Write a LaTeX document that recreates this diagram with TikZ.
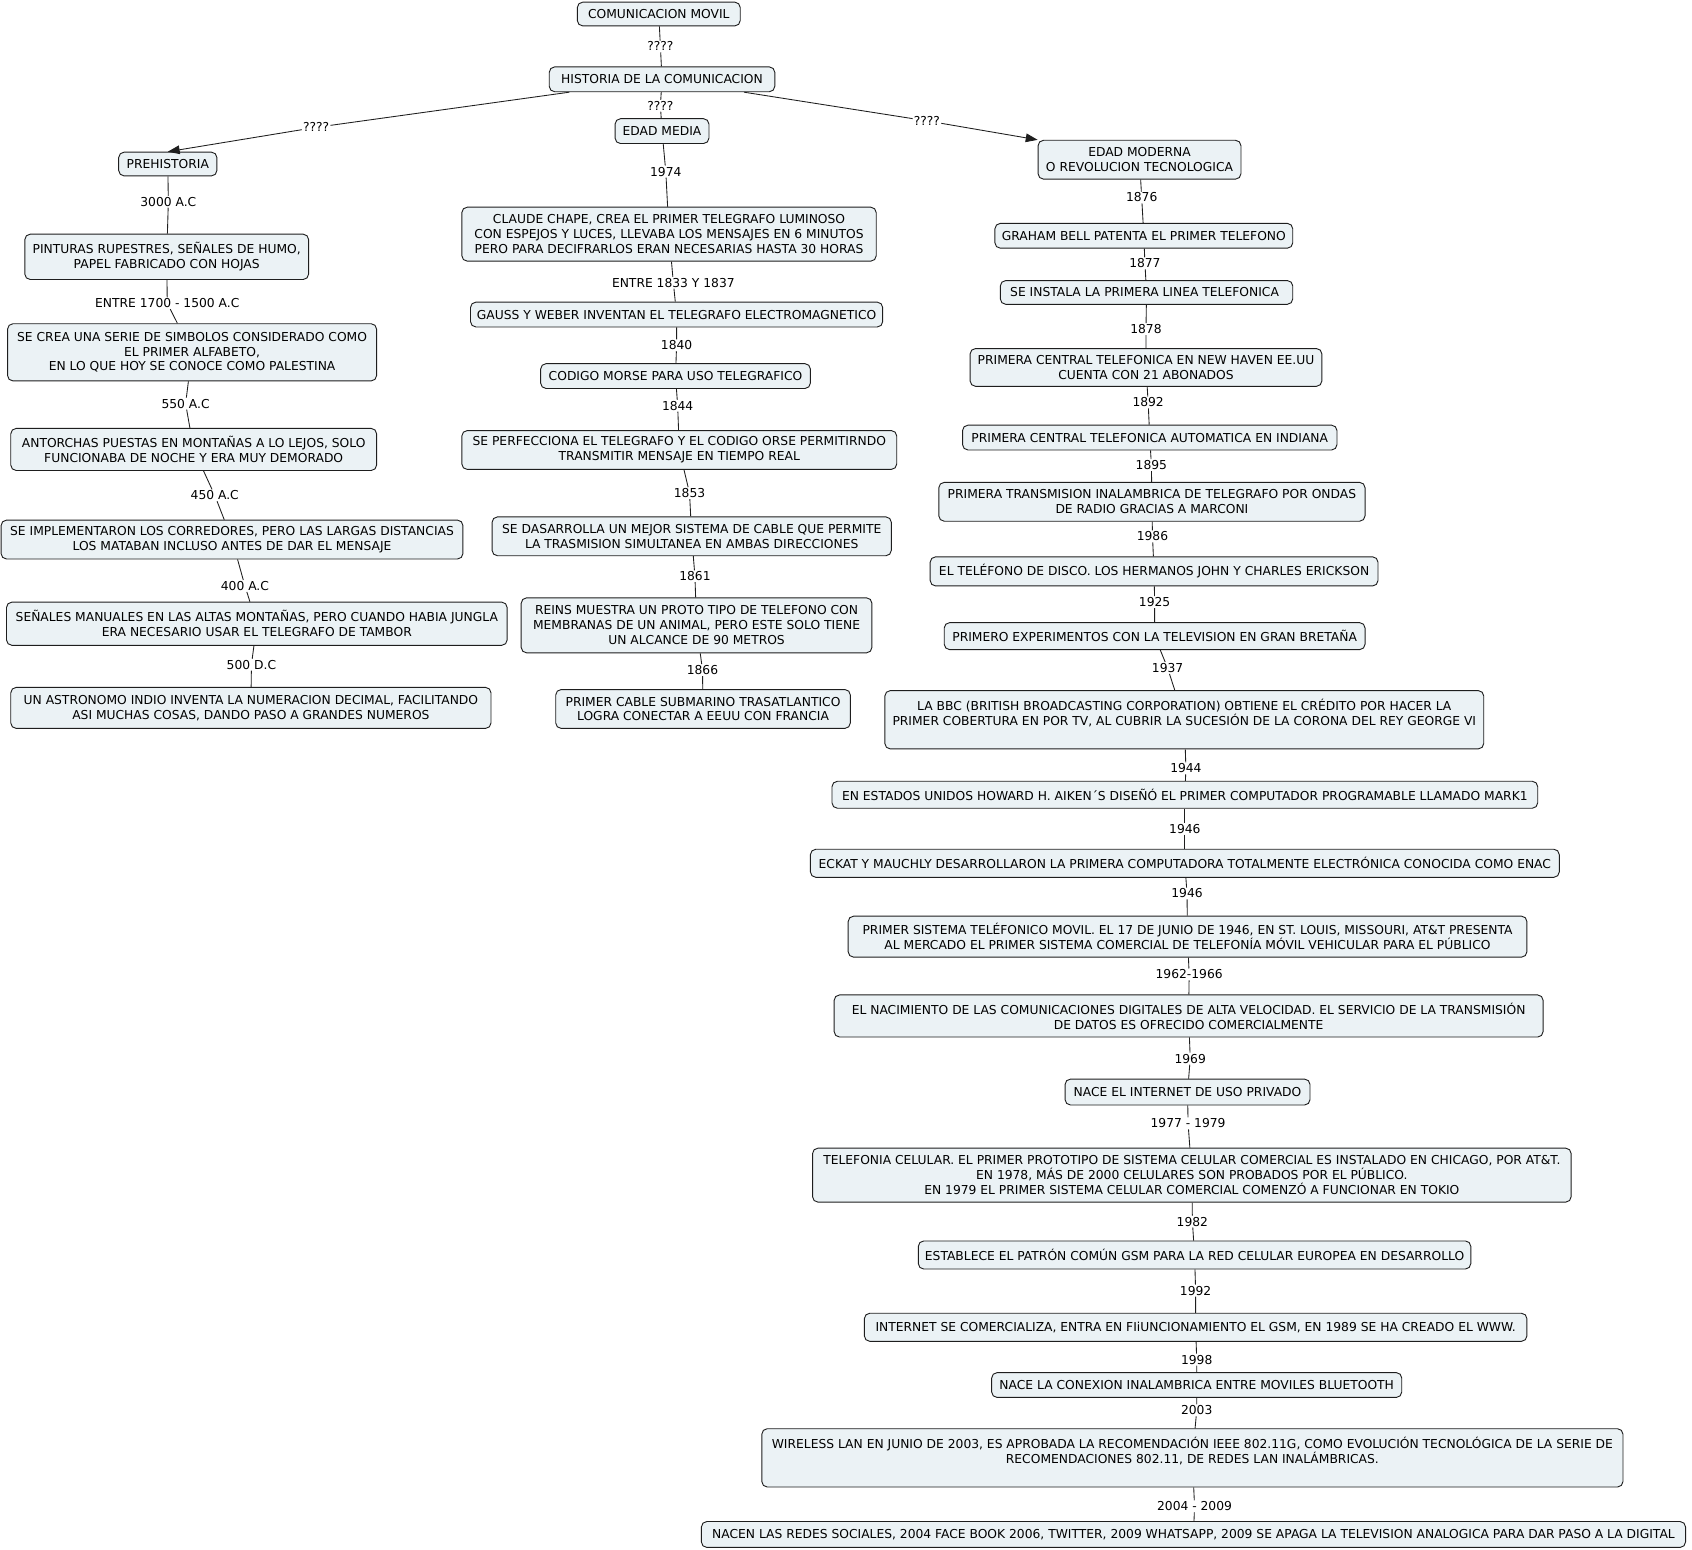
\documentclass[tikz,border=0pt]{standalone}
\usepackage{fontspec}
\setmainfont{DejaVu Sans}
\usetikzlibrary{arrows.meta}
\definecolor{boxfill}{RGB}{235,242,245}
\definecolor{boxline}{RGB}{30,30,30}
\newcommand\mybox[6]{\node[cbox,minimum width=#4pt,minimum height=#5pt] (#1) at (#2,#3) {#6};}
\newcommand\mylab[4]{\node[lbl] (#1) at (#2,#3) {#4};}
\begin{document}
\begin{tikzpicture}[x=1pt,y=-1pt,
  font=\fontsize{11.4}{13.8}\selectfont,
  cbox/.style={draw=boxline,fill=boxfill,rounded corners=5pt,line width=0.85pt,align=center,inner sep=2pt},
  lbl/.style={inner sep=1pt,text=black},
  link/.style={draw=boxline,line width=0.8pt},
  arr/.style={link,-{Triangle[length=11pt,width=8pt]}}]
\useasboundingbox[fill=white] (0,0) rectangle (1568,1436);

% top
\mybox{cm}{610.5}{13}{151}{22}{COMUNICACION MOVIL}
\mybox{hist}{613.5}{73.5}{209}{23}{HISTORIA DE LA COMUNICACION}
\mybox{em}{613.5}{121.5}{87}{23}{EDAD MEDIA}
\mybox{pre}{155.5}{152}{91}{22}{PREHISTORIA}
\mybox{emod}{1056}{148}{188}{36}{EDAD MODERNA\\O REVOLUCION TECNOLOGICA}
\mylab{q1}{612}{43}{????}
\mylab{q2}{612}{98}{????}
\mylab{q3}{293}{118}{????}
\mylab{q4}{859}{112}{????}
\draw[link] (cm) -- (q1) -- (hist);
\draw[link] (hist) -- (q2) -- (em);
\draw[link] (hist) -- (q3);
\draw[arr] (q3) -- (pre.north);
\draw[link] (hist) -- (q4);
\draw[arr] (q4) -- (emod.north west);

% prehistoria
\mybox{p1}{154.5}{238}{263}{42}{PINTURAS RUPESTRES, SEÑALES DE HUMO,\\PAPEL FABRICADO CON HOJAS}
\mybox{p2}{178}{326.5}{342}{53}{SE CREA UNA SERIE DE SIMBOLOS CONSIDERADO COMO\\EL PRIMER ALFABETO,\\EN LO QUE HOY SE CONOCE COMO PALESTINA}
\mybox{p3}{179.5}{416.5}{339}{39}{ANTORCHAS PUESTAS EN MONTAÑAS A LO LEJOS, SOLO\\FUNCIONABA DE NOCHE Y ERA MUY DEMORADO}
\mybox{p4}{215}{500}{428}{36}{SE IMPLEMENTARON LOS CORREDORES, PERO LAS LARGAS DISTANCIAS\\LOS MATABAN INCLUSO ANTES DE DAR EL MENSAJE}
\mybox{p5}{238}{578}{464}{40}{SEÑALES MANUALES EN LAS ALTAS MONTAÑAS, PERO CUANDO HABIA JUNGLA\\ERA NECESARIO USAR EL TELEGRAFO DE TAMBOR}
\mybox{p6}{232.5}{656}{445}{38}{UN ASTRONOMO INDIO INVENTA LA NUMERACION DECIMAL, FACILITANDO\\ASI MUCHAS COSAS, DANDO PASO A GRANDES NUMEROS}
\mylab{pl1}{156}{187}{3000 A.C}
\mylab{pl2}{155}{281}{ENTRE 1700 - 1500 A.C}
\mylab{pl3}{172}{374}{550 A.C}
\mylab{pl4}{199}{459}{450 A.C}
\mylab{pl5}{227}{543}{400 A.C}
\mylab{pl6}{233}{616}{500 D.C}
\draw[link] (pre) -- (pl1) -- (p1);
\draw[link] (p1) -- (pl2) -- (p2);
\draw[link] (p2) -- (pl3) -- (p3);
\draw[link] (p3) -- (pl4) -- (p4);
\draw[link] (p4) -- (pl5) -- (p5);
\draw[link] (p5) -- (pl6) -- (p6);

% edad media
\mybox{m1}{620}{217}{384}{50}{CLAUDE CHAPE, CREA EL PRIMER TELEGRAFO LUMINOSO\\CON ESPEJOS Y LUCES, LLEVABA LOS MENSAJES EN 6 MINUTOS\\PERO PARA DECIFRARLOS ERAN NECESARIAS HASTA 30 HORAS}
\mybox{m2}{627}{291.5}{382}{23}{GAUSS Y WEBER INVENTAN EL TELEGRAFO ELECTROMAGNETICO}
\mybox{m3}{626}{348.5}{250}{23}{CODIGO MORSE PARA USO TELEGRAFICO}
\mybox{m4}{629.5}{417}{403}{36}{SE PERFECCIONA EL TELEGRAFO Y EL CODIGO ORSE PERMITIRNDO\\TRANSMITIR MENSAJE EN TIEMPO REAL}
\mybox{m5}{641}{497}{370}{36}{SE DASARROLLA UN MEJOR SISTEMA DE CABLE QUE PERMITE\\LA TRASMISION SIMULTANEA EN AMBAS DIRECCIONES}
\mybox{m6}{645.5}{579.5}{325}{51}{REINS MUESTRA UN PROTO TIPO DE TELEFONO CON\\MEMBRANAS DE UN ANIMAL, PERO ESTE SOLO TIENE\\UN ALCANCE DE 90 METROS}
\mybox{m7}{651.5}{657}{273}{36}{PRIMER CABLE SUBMARINO TRASATLANTICO\\LOGRA CONECTAR A EEUU CON FRANCIA}
\mylab{ml1}{617}{159}{1974}
\mylab{ml2}{624}{262}{ENTRE 1833 Y 1837}
\mylab{ml3}{627}{320}{1840}
\mylab{ml4}{628}{376}{1844}
\mylab{ml5}{639}{457}{1853}
\mylab{ml6}{644}{534}{1861}
\mylab{ml7}{651}{621}{1866}
\draw[link] (em) -- (ml1) -- (m1);
\draw[link] (m1) -- (ml2) -- (m2);
\draw[link] (m2) -- (ml3) -- (m3);
\draw[link] (m3) -- (ml4) -- (m4);
\draw[link] (m4) -- (ml5) -- (m5);
\draw[link] (m5) -- (ml6) -- (m6);
\draw[link] (m6) -- (ml7) -- (m7);

% edad moderna
\mybox{r1}{1060}{218.5}{276}{23}{GRAHAM BELL PATENTA EL PRIMER TELEFONO}
\mybox{r2}{1062.5}{271}{271}{22}{SE INSTALA LA PRIMERA LINEA TELEFONICA\ }
\mybox{r3}{1062}{340.5}{326}{35}{PRIMERA CENTRAL TELEFONICA EN NEW HAVEN EE.UU\\CUENTA CON 21 ABONADOS}
\mybox{r4}{1065.5}{405.5}{347}{23}{PRIMERA CENTRAL TELEFONICA AUTOMATICA EN INDIANA}
\mybox{r5}{1067.5}{465}{395}{36}{PRIMERA TRANSMISION INALAMBRICA DE TELEGRAFO POR ONDAS\\DE RADIO GRACIAS A MARCONI}
\mybox{r6}{1069.5}{529.5}{415}{27}{EL TELÉFONO DE DISCO. LOS HERMANOS JOHN Y CHARLES ERICKSON}
\mybox{r7}{1070}{589.5}{390}{25}{PRIMERO EXPERIMENTOS CON LA TELEVISION EN GRAN BRETAÑA}
\mybox{r8}{1097.5}{667}{555}{54}{LA BBC (BRITISH BROADCASTING CORPORATION) OBTIENE EL CRÉDITO POR HACER LA\\PRIMER COBERTURA EN POR TV, AL CUBRIR LA SUCESIÓN DE LA CORONA DEL REY GEORGE VI\\\mbox{}}
\mybox{r9}{1098}{736.5}{654}{25}{EN ESTADOS UNIDOS HOWARD H. AIKEN´S DISEÑÓ EL PRIMER COMPUTADOR PROGRAMABLE LLAMADO MARK1}
\mybox{r10}{1098}{800}{694}{26}{ECKAT Y MAUCHLY DESARROLLARON LA PRIMERA COMPUTADORA TOTALMENTE ELECTRÓNICA CONOCIDA COMO ENAC}
\mybox{r11}{1100.5}{868}{629}{38}{PRIMER SISTEMA TELÉFONICO MOVIL. EL 17 DE JUNIO DE 1946, EN ST. LOUIS, MISSOURI, AT\&T PRESENTA\\AL MERCADO EL PRIMER SISTEMA COMERCIAL DE TELEFONÍA MÓVIL VEHICULAR PARA EL PÚBLICO}
\mybox{r12}{1101.5}{941.5}{657}{39}{EL NACIMIENTO DE LAS COMUNICACIONES DIGITALES DE ALTA VELOCIDAD. EL SERVICIO DE LA TRANSMISIÓN\\DE DATOS ES OFRECIDO COMERCIALMENTE}
\mybox{r13}{1100.5}{1012}{227}{24}{NACE EL INTERNET DE USO PRIVADO}
\mybox{r14}{1104.5}{1089}{703}{50}{TELEFONIA CELULAR. EL PRIMER PROTOTIPO DE SISTEMA CELULAR COMERCIAL ES INSTALADO EN CHICAGO, POR AT\&T.\\EN 1978, MÁS DE 2000 CELULARES SON PROBADOS POR EL PÚBLICO.\\EN 1979 EL PRIMER SISTEMA CELULAR COMERCIAL COMENZÓ A FUNCIONAR EN TOKIO}
\mybox{r15}{1107}{1163}{512}{26}{ESTABLECE EL PATRÓN COMÚN GSM PARA LA RED CELULAR EUROPEA EN DESARROLLO}
\mybox{r16}{1108}{1230}{614}{26}{INTERNET SE COMERCIALIZA, ENTRA EN FIiUNCIONAMIENTO EL GSM, EN 1989 SE HA CREADO EL WWW.}
\mybox{r17}{1109}{1283.5}{380}{23}{NACE LA CONEXION INALAMBRICA ENTRE MOVILES BLUETOOTH}
\mybox{r18}{1105}{1351}{798}{54}{WIRELESS LAN EN JUNIO DE 2003, ES APROBADA LA RECOMENDACIÓN IEEE 802.11G, COMO EVOLUCIÓN TECNOLÓGICA DE LA SERIE DE\\RECOMENDACIONES 802.11, DE REDES LAN INALÁMBRICAS.\\\mbox{}}
\mybox{r19}{1106}{1422}{912}{24}{NACEN LAS REDES SOCIALES, 2004 FACE BOOK 2006, TWITTER, 2009 WHATSAPP, 2009 SE APAGA LA TELEVISION ANALOGICA PARA DAR PASO A LA DIGITAL}
\mylab{rl1}{1058}{183}{1876}
\mylab{rl2}{1061}{244}{1877}
\mylab{rl3}{1062}{305}{1878}
\mylab{rl4}{1064}{373}{1892}
\mylab{rl5}{1067}{431}{1895}
\mylab{rl6}{1068}{497}{1986}
\mylab{rl7}{1070}{558}{1925}
\mylab{rl8}{1082}{619}{1937}
\mylab{rl9}{1099}{712}{1944}
\mylab{rl10}{1098}{768}{1946}
\mylab{rl11}{1100}{828}{1946}
\mylab{rl12}{1102}{903}{1962-1966}
\mylab{rl13}{1103}{981}{1969}
\mylab{rl14}{1101}{1041}{1977 - 1979}
\mylab{rl15}{1105}{1132}{1982}
\mylab{rl16}{1108}{1196}{1992}
\mylab{rl17}{1109}{1260}{1998}
\mylab{rl18}{1109}{1307}{2003}
\mylab{rl19}{1107}{1396}{2004 - 2009}
\draw[link] (emod) -- (rl1) -- (r1);
\draw[link] (r1) -- (rl2) -- (r2);
\draw[link] (r2) -- (rl3) -- (r3);
\draw[link] (r3) -- (rl4) -- (r4);
\draw[link] (r4) -- (rl5) -- (r5);
\draw[link] (r5) -- (rl6) -- (r6);
\draw[link] (r6) -- (rl7) -- (r7);
\draw[link] (r7) -- (rl8) -- (r8);
\draw[link] (r8) -- (rl9) -- (r9);
\draw[link] (r9) -- (rl10) -- (r10);
\draw[link] (r10) -- (rl11) -- (r11);
\draw[link] (r11) -- (rl12) -- (r12);
\draw[link] (r12) -- (rl13) -- (r13);
\draw[link] (r13) -- (rl14) -- (r14);
\draw[link] (r14) -- (rl15) -- (r15);
\draw[link] (r15) -- (rl16) -- (r16);
\draw[link] (r16) -- (rl17) -- (r17);
\draw[link] (r17) -- (rl18) -- (r18);
\draw[link] (r18) -- (rl19) -- (r19);
\end{tikzpicture}
\end{document}
